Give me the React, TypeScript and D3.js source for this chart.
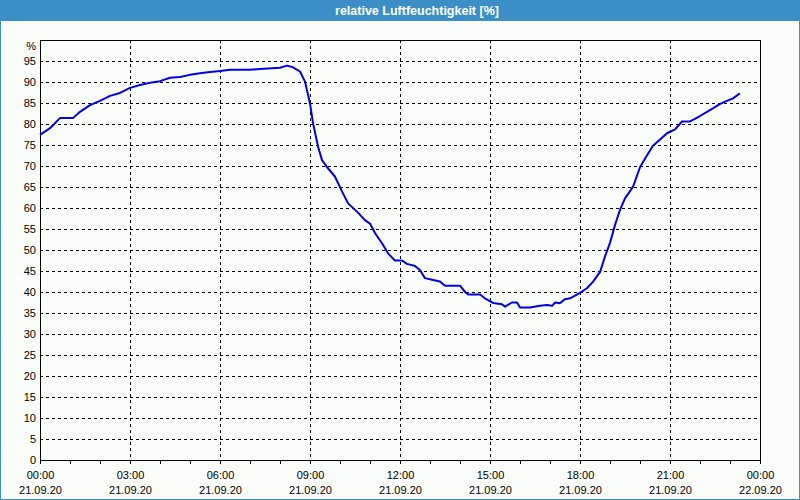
import React from "react";
import * as d3 from "d3";

const TITLE = "relative Luftfeuchtigkeit [%]";
const UNIT = "%";

// hours since 21.09.20 00:00
const hours = [
  0, 0.333, 0.667, 1.1, 1.333, 1.667, 2, 2.333, 2.667, 3, 3.333, 3.667, 4, 4.333, 4.667, 5, 5.333,
  5.667, 6, 6.333, 7, 7.333, 8, 8.23, 8.43, 8.667, 8.833, 9, 9.1, 9.27, 9.4, 9.57, 9.83, 10.07,
  10.27, 10.6, 10.83, 11, 11.17, 11.4, 11.6, 11.83, 12.07, 12.23, 12.5, 12.67, 12.83, 13.07, 13.33,
  13.5, 14, 14.17, 14.27, 14.67,
  14.83, 15.1, 15.4, 15.5, 15.73, 15.9, 16, 16.33, 16.67, 16.9, 17.07, 17.17, 17.33, 17.5, 17.67,
  18, 18.23, 18.43, 18.67, 18.83, 19, 19.17, 19.33, 19.5, 19.77, 20, 20.17, 20.43, 20.67, 20.9,
  21.17, 21.4, 21.67, 22, 22.23, 22.43, 22.67, 22.9, 23.1, 23.33,
];
const humidity = [
  77.4, 79, 81.4, 81.4, 82.9, 84.5, 85.5, 86.7, 87.4, 88.6, 89.3, 89.8, 90.2, 91, 91.2, 91.7, 92.1,
  92.4, 92.6, 92.9, 92.9, 93.1, 93.4, 93.9, 93.5, 92.5, 90.1, 84.9, 80.2, 74.6, 71.4, 69.7, 67.5,
  63.9, 61.1, 58.9, 57.1, 56.3, 54, 51.6, 49.2, 47.5, 47.5, 46.7, 46.2, 45.2, 43.3, 42.9, 42.5,
  41.5, 41.5, 40, 39.4, 39.4,
  38.5, 37.4, 37.1, 36.5, 37.5, 37.5, 36.3, 36.3, 36.7, 36.9, 36.7, 37.5, 37.3, 38.3, 38.5, 39.8,
  40.9, 42.4, 44.8, 48.4, 51.7, 56, 59.5, 62.3, 65.1, 69.7, 71.8, 74.8, 76.3, 77.8, 78.7, 80.6,
  80.6, 81.9, 82.9, 83.7, 84.8, 85.5, 86.1, 87.3,
];
const yTicks = [0, 5, 10, 15, 20, 25, 30, 35, 40, 45, 50, 55, 60, 65, 70, 75, 80, 85, 90, 95];
const xTickHours = [0, 3, 6, 9, 12, 15, 18, 21, 24];
const xTimeLabels = ["00:00", "03:00", "06:00", "09:00", "12:00", "15:00", "18:00", "21:00", "00:00"];
const xDateLabels = [
  "21.09.20", "21.09.20", "21.09.20", "21.09.20", "21.09.20", "21.09.20", "21.09.20", "21.09.20", "22.09.20",
];

const W = 800;
const H = 500;
const PL = 40, PR = 760, PT = 40, PB = 460;
const FONT = "'Liberation Sans', Arial, sans-serif";

export default function App() {
  const x = d3.scaleLinear().domain([0, 24]).range([PL, PR]);
  const y = d3.scaleLinear().domain([0, 100]).range([PB, PT]);
  const line = d3
    .line<number>()
    .x((_, i) => x(hours[i]))
    .y((d) => y(d));
  const minor = d3.range(0, 25, 1);

  return (
    <svg
      width={W}
      height={H}
      style={{ position: "absolute", left: 0, top: 0 }}
      fontFamily={FONT}
    >
      <rect x={0} y={0} width={W} height={H} fill="#fbfdfb" />
      <rect x={0.5} y={0.5} width={W - 1} height={H - 1} fill="none" stroke="#3c8fc6" />
      <rect x={0} y={0} width={W} height={21} fill="#3c8fc6" />
      <text x={417} y={14.5} textAnchor="middle" fill="#ffffff" fontSize={12.5} fontWeight="bold">
        {TITLE}
      </text>

      {/* horizontal grid */}
      {yTicks
        .filter((t) => t > 0)
        .map((t) => (
          <line
            key={"h" + t}
            x1={PL}
            x2={PR}
            y1={Math.round(y(t)) + 0.5}
            y2={Math.round(y(t)) + 0.5}
            stroke="#000"
            strokeDasharray="3,3"
          />
        ))}
      {/* vertical grid */}
      {xTickHours
        .filter((t) => t > 0 && t < 24)
        .map((t) => (
          <line
            key={"v" + t}
            x1={Math.round(x(t)) + 0.5}
            x2={Math.round(x(t)) + 0.5}
            y1={PT}
            y2={PB}
            stroke="#000"
            strokeDasharray="3,3"
          />
        ))}

      {/* minor ticks */}
      {minor.map((t) => (
        <line
          key={"m" + t}
          x1={Math.round(x(t)) + 0.5}
          x2={Math.round(x(t)) + 0.5}
          y1={PB}
          y2={PB + 4}
          stroke="#000"
        />
      ))}

      {/* plot frame */}
      <rect x={PL + 0.5} y={PT + 0.5} width={PR - PL} height={PB - PT} fill="none" stroke="#000" />

      {/* y labels */}
      {yTicks.map((t) => (
        <text key={"yl" + t} x={36} y={y(t)} dy="0.35em" textAnchor="end" fontSize={11} fill="#000">
          {t}
        </text>
      ))}
      <text x={36} y={y(100) + 6} dy="0.35em" textAnchor="end" fontSize={11} fill="#000">
        {UNIT}
      </text>

      {/* x labels */}
      {xTickHours.map((t, i) => (
        <g key={"xl" + i}>
          <text x={x(t) + 0.5} y={479} textAnchor="middle" fontSize={11} fill="#000">
            {xTimeLabels[i]}
          </text>
          <text x={x(t) + 0.5} y={494} textAnchor="middle" fontSize={11} fill="#000">
            {xDateLabels[i]}
          </text>
        </g>
      ))}

      <path d={line(humidity) || ""} fill="none" stroke="#0000e6" strokeWidth={2} strokeLinejoin="round" />
    </svg>
  );
}
